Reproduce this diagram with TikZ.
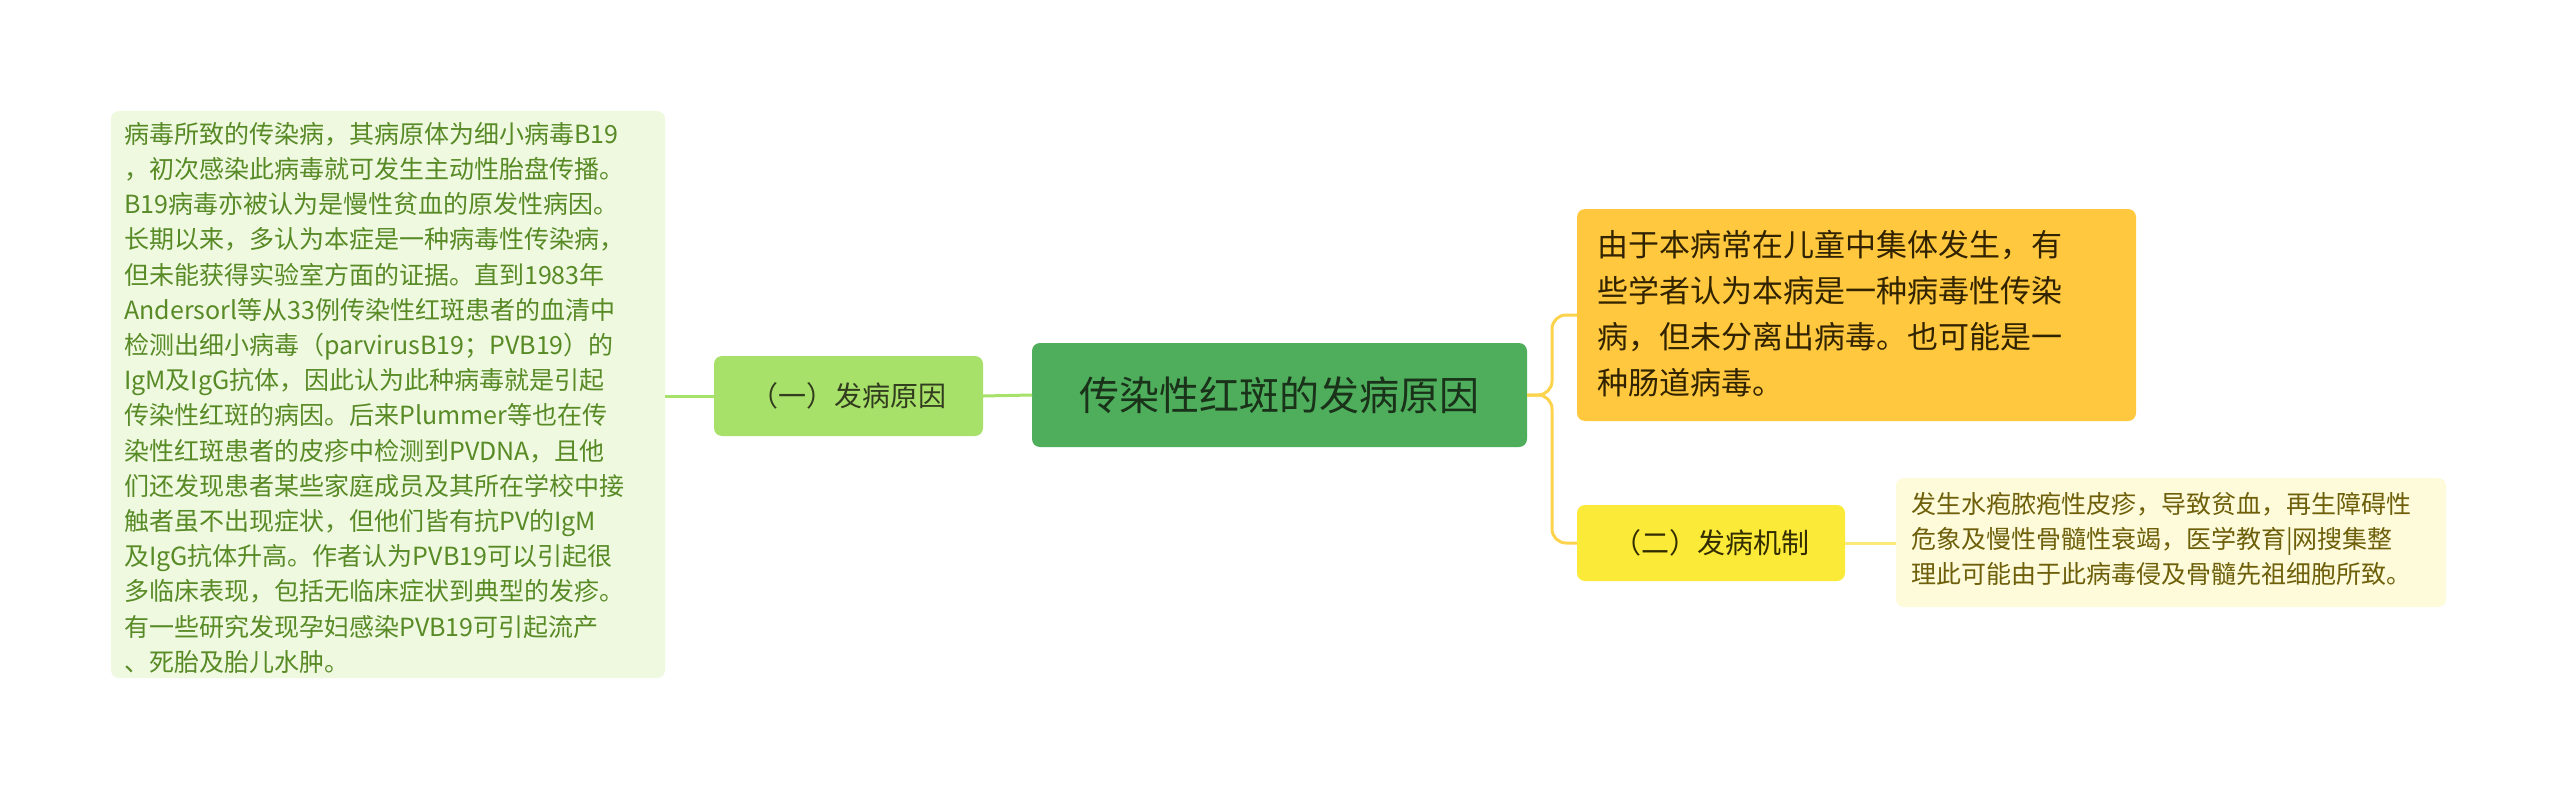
\documentclass[tikz,border=0pt]{standalone}
\usepackage{fontspec}
\setmainfont{Noto Sans CJK SC}
\begin{document}
\begin{tikzpicture}[x=1pt,y=-1pt,
  box/.style={rounded corners=8pt,inner sep=0pt,outer sep=0pt},
  txt/.style={inner sep=0pt,anchor=north west,align=left}]
\useasboundingbox[fill=white] (0,0) rectangle (2560,792);
% left detail
\node[box,fill=green!8!white,fill={rgb,255:red,239;green,249;blue,224},minimum width=554pt,minimum height=567pt,anchor=north west] (L) at (111,111) {};
\node[txt,text={rgb,255:red,88;green,138;blue,38},font=\fontsize{25}{35.2}\selectfont] (Lt) at (124,122) {病毒所致的传染病，其病原体为细小病毒B19\\，初次感染此病毒就可发生主动性胎盘传播。\\B19病毒亦被认为是慢性贫血的原发性病因。\\长期以来，多认为本症是一种病毒性传染病，\\但未能获得实验室方面的证据。直到1983年\\Andersorl等从33例传染性红斑患者的血清中\\检测出细小病毒（parvirusB19；PVB19）的\\IgM及IgG抗体，因此认为此种病毒就是引起\\传染性红斑的病因。后来Plummer等也在传\\染性红斑患者的皮疹中检测到PVDNA，且他\\们还发现患者某些家庭成员及其所在学校中接\\触者虽不出现症状，但他们皆有抗PV的IgM\\及IgG抗体升高。作者认为PVB19可以引起很\\多临床表现，包括无临床症状到典型的发疹。\\有一些研究发现孕妇感染PVB19可引起流产\\、死胎及胎儿水肿。};
% (一)
\node[box,fill={rgb,255:red,168;green,225;blue,106},minimum width=269pt,minimum height=80pt,anchor=north west] (A) at (714,356) {};
\node[font=\fontsize{28}{34}\selectfont,text={rgb,255:red,50;green,60;blue,30}] at (A.center) {（一）发病原因};
% center
\node[box,fill={rgb,255:red,78;green,174;blue,92},minimum width=495pt,minimum height=104pt,anchor=north west] (C) at (1032,343) {};
\node[font=\fontsize{40}{48}\selectfont,text={rgb,255:red,25;green,50;blue,25}] at (C.center) {传染性红斑的发病原因};
% orange
\node[box,fill={rgb,255:red,255;green,200;blue,62},minimum width=559pt,minimum height=212pt,anchor=north west] (O) at (1577,209) {};
\node[txt,font=\fontsize{31}{46}\selectfont,text={rgb,255:red,50;green,35;blue,0}] at (1597,230) {由于本病常在儿童中集体发生，有\\些学者认为本病是一种病毒性传染\\病，但未分离出病毒。也可能是一\\种肠道病毒。};
% (二)
\node[box,fill={rgb,255:red,252;green,234;blue,56},minimum width=268pt,minimum height=76pt,anchor=north west] (B) at (1577,505) {};
\node[font=\fontsize{28}{34}\selectfont,text={rgb,255:red,50;green,45;blue,0}] at (B.center) {（二）发病机制};
% right detail
\node[box,fill={rgb,255:red,254;green,251;blue,218},minimum width=550pt,minimum height=129pt,anchor=north west] (R) at (1896,478) {};
\node[txt,font=\fontsize{25}{35}\selectfont,text={rgb,255:red,110;green,95;blue,10}] at (1911,492) {发生水疱脓疱性皮疹，导致贫血，再生障碍性\\危象及慢性骨髓性衰竭，医学教育|网搜集整\\理此可能由于此病毒侵及骨髓先祖细胞所致。};
% connectors
\draw[line width=3pt,draw={rgb,255:red,168;green,225;blue,106}] (C.west) -- (A.east);
\draw[line width=3pt,draw={rgb,255:red,168;green,225;blue,106}] (A.west) -- (L.east|-A.west);
\coordinate (j) at (1552,395);
\draw[line width=3pt,draw={rgb,255:red,252;green,211;blue,77},rounded corners=14pt] (C.east) -- (j) |- (O.west);
\draw[line width=3pt,draw={rgb,255:red,252;green,211;blue,77},rounded corners=14pt] (C.east) -- (j) |- (B.west);
\draw[line width=3pt,draw={rgb,255:red,252;green,234;blue,120}] (B.east) -- (R.west|-B.east);
\end{tikzpicture}
\end{document}
